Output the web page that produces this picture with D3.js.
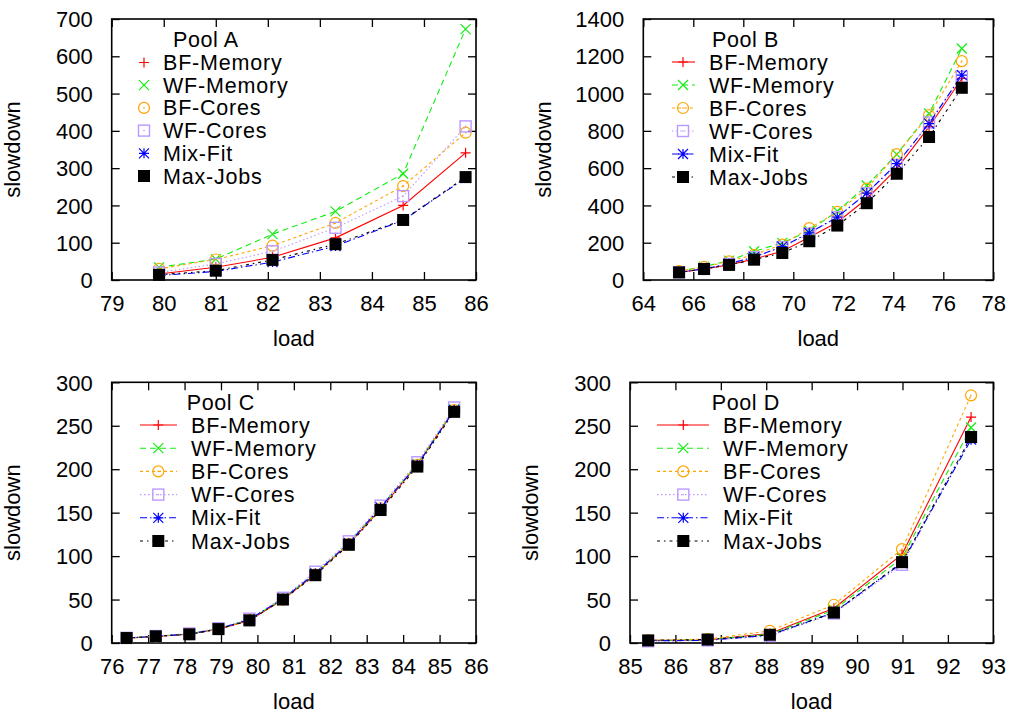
<!DOCTYPE html>
<html>
<head>
<meta charset="utf-8">
<script src="https://cdn.jsdelivr.net/npm/d3@7"></script>
<style>
  body { margin: 0; background: #fff; }
  svg text { font-family: "Liberation Sans", Arial, Helvetica, sans-serif; fill: #000; }
</style>
</head>
<body>
<svg id="chart" width="1014" height="716"></svg>
<script>
// ---------------- DATA ----------------
const seriesNames = ["BF-Memory", "WF-Memory", "BF-Cores", "WF-Cores", "Mix-Fit", "Max-Jobs"];

// Pool A
const poolALoad      = [79.91, 81.0, 82.09, 83.30, 84.60, 85.80];
const poolABFMemory  = [16, 34, 61, 113, 200, 341];
const poolAWFMemory  = [34, 56, 123, 184, 285, 673];
const poolABFCores   = [30, 55, 92, 153, 252, 395];
const poolAWFCores   = [20, 43, 77, 140, 225, 412];
const poolAMixFit    = [12, 23, 48, 91, 160, 274];
const poolAMaxJobs   = [14, 25, 54, 96, 161, 276];
const poolAXTicks    = [79, 80, 81, 82, 83, 84, 85, 86];
const poolAYTicks    = [0, 100, 200, 300, 400, 500, 600, 700];

// Pool B
const poolBLoad      = [65.43, 66.43, 67.43, 68.43, 69.56, 70.64, 71.76, 72.94, 74.14, 75.43, 76.74];
const poolBBFMemory  = [41, 59, 81, 113, 154, 229, 310, 436, 597, 821, 1081];
const poolBWFMemory  = [47, 72, 104, 154, 199, 265, 369, 507, 674, 893, 1242];
const poolBBFCores   = [48, 70, 100, 135, 190, 278, 365, 490, 675, 884, 1174];
const poolBWFCores   = [41, 59, 86, 122, 176, 247, 337, 466, 615, 845, 1090];
const poolBMixFit    = [42, 60, 87, 123, 179, 253, 337, 466, 624, 839, 1099];
const poolBMaxJobs   = [41, 59, 81, 109, 145, 208, 292, 412, 570, 767, 1031];
const poolBXTicks    = [64, 66, 68, 70, 72, 74, 76, 78];
const poolBYTicks    = [0, 200, 400, 600, 800, 1000, 1200, 1400];

// Pool C
const poolCLoad      = [76.41, 77.21, 78.13, 78.93, 79.78, 80.70, 81.59, 82.51, 83.38, 84.39, 85.40];
const poolCBFMemory  = [5.5, 7.5, 10, 16, 26, 50, 79, 114, 154, 205, 268];
const poolCWFMemory  = [5.8, 7.8, 10.5, 16.5, 27, 51, 80, 115, 156, 206, 269];
const poolCBFCores   = [5.6, 7.6, 10.2, 16, 26.5, 50, 79, 114, 155, 205, 268];
const poolCWFCores   = [6, 8, 11, 17, 28, 52, 82, 117, 158, 208, 271];
const poolCMixFit    = [5.7, 7.7, 10.3, 16.2, 27, 51, 80, 115, 156, 205, 268];
const poolCMaxJobs   = [5.7, 7.7, 10, 16, 26, 50, 78, 113, 153, 203, 266];
const poolCXTicks    = [76, 77, 78, 79, 80, 81, 82, 83, 84, 85, 86];
const poolCYTicks    = [0, 50, 100, 150, 200, 250, 300];

// Pool D
const poolDLoad      = [85.40, 86.71, 88.08, 89.49, 90.99, 92.51];
const poolDBFMemory  = [3, 3.5, 11, 40, 102, 260];
const poolDWFMemory  = [3, 3.5, 10, 38, 98, 248];
const poolDBFCores   = [3, 4.5, 14, 44, 108, 285];
const poolDWFCores   = [2, 3, 8, 34, 90, 237];
const poolDMixFit    = [2.5, 3, 9, 35, 92, 234];
const poolDMaxJobs   = [3, 4, 9.5, 35, 93, 237];
const poolDXTicks    = [85, 86, 87, 88, 89, 90, 91, 92, 93];
const poolDYTicks    = [0, 50, 100, 150, 200, 250, 300];

// ---------------- STYLES ----------------
const seriesColors = ["#ff0000", "#11ee11", "#ffa500", "#bb99ff", "#0000ff", "#000000"];
const seriesDash   = [null, "6,4", "3,3", "1.5,2.5", "7,3,1.5,3", "3,4,1.5,4"];
const seriesShape  = ["plus", "cross", "circle", "square", "star", "fsquare"];

const pools = [
  { title: "Pool A", load: poolALoad,
    values: [poolABFMemory, poolAWFMemory, poolABFCores, poolAWFCores, poolAMixFit, poolAMaxJobs],
    xTicks: poolAXTicks, yTicks: poolAYTicks,
    box: { l: 111.7, r: 476, t: 19, b: 280 },
    leg: { titleX: 173, titleY: 39, y0: 62.5, dy: 22.7, lineL: null, lineR: null, mark: 144, text: 163 } },
  { title: "Pool B", load: poolBLoad,
    values: [poolBBFMemory, poolBWFMemory, poolBBFCores, poolBWFCores, poolBMixFit, poolBMaxJobs],
    xTicks: poolBXTicks, yTicks: poolBYTicks,
    box: { l: 643.3, r: 993.3, t: 19, b: 280 },
    leg: { titleX: 712, titleY: 39, y0: 62, dy: 23, lineL: 672, lineR: 695, mark: 683, text: 709 } },
  { title: "Pool C", load: poolCLoad,
    values: [poolCBFMemory, poolCWFMemory, poolCBFCores, poolCWFCores, poolCMixFit, poolCMaxJobs],
    xTicks: poolCXTicks, yTicks: poolCYTicks,
    box: { l: 111.7, r: 476, t: 382.3, b: 643 },
    leg: { titleX: 186.7, titleY: 402, y0: 425, dy: 23.2, lineL: 140, lineR: 177, mark: 158.3, text: 191 } },
  { title: "Pool D", load: poolDLoad,
    values: [poolDBFMemory, poolDWFMemory, poolDBFCores, poolDWFCores, poolDMixFit, poolDMaxJobs],
    xTicks: poolDXTicks, yTicks: poolDYTicks,
    box: { l: 630, r: 993.3, t: 382.3, b: 643 },
    leg: { titleX: 711.7, titleY: 402, y0: 425, dy: 23.2, lineL: 657, lineR: 709, mark: 683.3, text: 723 } }
];

const svg = d3.select("#chart");
const FONT = 21.5;
const LEG_SPACING = 0.8;

function drawMarker(g, shape, x, y, color) {
  const s = 5;
  if (shape === "plus") {
    g.append("path").attr("d", `M${x - s},${y}H${x + s}M${x},${y - s}V${y + s}`)
      .attr("stroke", color).attr("stroke-width", 1.2).attr("fill", "none");
  } else if (shape === "cross") {
    g.append("path").attr("d", `M${x - s},${y - s}L${x + s},${y + s}M${x - s},${y + s}L${x + s},${y - s}`)
      .attr("stroke", color).attr("stroke-width", 1.2).attr("fill", "none");
  } else if (shape === "star") {
    g.append("path").attr("d", `M${x - s},${y}H${x + s}M${x},${y - s}V${y + s}M${x - s},${y - s}L${x + s},${y + s}M${x - s},${y + s}L${x + s},${y - s}`)
      .attr("stroke", color).attr("stroke-width", 1.2).attr("fill", "none");
  } else if (shape === "circle") {
    g.append("circle").attr("cx", x).attr("cy", y).attr("r", 5.5)
      .attr("stroke", color).attr("stroke-width", 1.2).attr("fill", "none");
    g.append("circle").attr("cx", x).attr("cy", y).attr("r", 0.8).attr("fill", color);
  } else if (shape === "square") {
    g.append("rect").attr("x", x - 5.5).attr("y", y - 5.5).attr("width", 11).attr("height", 11)
      .attr("stroke", color).attr("stroke-width", 1.4).attr("fill", "none");
    g.append("circle").attr("cx", x).attr("cy", y).attr("r", 0.8).attr("fill", color);
  } else if (shape === "fsquare") {
    g.append("rect").attr("x", x - 6).attr("y", y - 6).attr("width", 12).attr("height", 12)
      .attr("fill", color);
  }
}

pools.forEach((p) => {
  const b = p.box;
  const x = d3.scaleLinear().domain([p.xTicks[0], p.xTicks[p.xTicks.length - 1]]).range([b.l, b.r]);
  const y = d3.scaleLinear().domain([p.yTicks[0], p.yTicks[p.yTicks.length - 1]]).range([b.b, b.t]);
  const g = svg.append("g");

  // axes: inward ticks on all four sides
  const tickLen = 8;
  const axB = g.append("g").attr("transform", `translate(0,${b.b})`)
    .call(d3.axisBottom(x).tickValues(p.xTicks).tickSizeInner(-tickLen).tickSizeOuter(0).tickPadding(tickLen + 7).tickFormat(d3.format("d")));
  const axT = g.append("g").attr("transform", `translate(0,${b.t})`)
    .call(d3.axisTop(x).tickValues(p.xTicks).tickSizeInner(-tickLen).tickSizeOuter(0).tickFormat(""));
  const axL = g.append("g").attr("transform", `translate(${b.l},0)`)
    .call(d3.axisLeft(y).tickValues(p.yTicks).tickSizeInner(-tickLen).tickSizeOuter(0).tickPadding(tickLen + 11).tickFormat(d3.format("d")));
  const axR = g.append("g").attr("transform", `translate(${b.r},0)`)
    .call(d3.axisRight(y).tickValues(p.yTicks).tickSizeInner(-tickLen).tickSizeOuter(0).tickFormat(""));
  [axB, axT, axL, axR].forEach(a => {
    a.select(".domain").remove();
    a.selectAll(".tick line").attr("stroke", "#000").attr("stroke-width", 1.3);
    a.selectAll("text").attr("font-size", 22).attr("font-family", "Liberation Sans, Arial, sans-serif").attr("fill", "#000");
  });
  axL.selectAll("text").attr("dy", "0.35em");

  // frame
  g.append("rect").attr("x", b.l).attr("y", b.t).attr("width", b.r - b.l).attr("height", b.b - b.t)
    .attr("fill", "none").attr("stroke", "#000").attr("stroke-width", 1.6);

  // axis titles
  g.append("text").attr("x", (b.l + b.r) / 2).attr("y", b.b + 66)
    .attr("text-anchor", "middle").attr("font-size", 22).text("load");
  g.append("text").attr("transform", `translate(${b.l - 92},${(b.t + b.b) / 2}) rotate(-90)`)
    .attr("text-anchor", "middle").attr("font-size", 22).text("slowdown");

  // series
  const line = d3.line().x((d, i) => x(p.load[i])).y(d => y(d));
  p.values.forEach((vals, si) => {
    g.append("path").datum(vals).attr("d", line)
      .attr("fill", "none").attr("stroke", seriesColors[si]).attr("stroke-width", 1.1)
      .attr("stroke-dasharray", seriesDash[si]);
    vals.forEach((v, i) => drawMarker(g, seriesShape[si], x(p.load[i]), y(v), seriesColors[si]));
  });

  // legend
  const L = p.leg;
  g.append("text").attr("x", L.titleX).attr("y", L.titleY).attr("dy", "0.35em")
    .attr("font-size", FONT).attr("letter-spacing", 0.6).text(p.title);
  seriesNames.forEach((name, si) => {
    const yy = L.y0 + si * L.dy;
    if (L.lineL !== null) {
      g.append("line").attr("x1", L.lineL).attr("x2", L.lineR).attr("y1", yy).attr("y2", yy)
        .attr("stroke", seriesColors[si]).attr("stroke-width", 1.1).attr("stroke-dasharray", seriesDash[si]);
    }
    drawMarker(g, seriesShape[si], L.mark, yy, seriesColors[si]);
    g.append("text").attr("x", L.text).attr("y", yy).attr("dy", "0.35em")
      .attr("font-size", FONT).attr("letter-spacing", LEG_SPACING).text(name);
  });
});
</script>
</body>
</html>
